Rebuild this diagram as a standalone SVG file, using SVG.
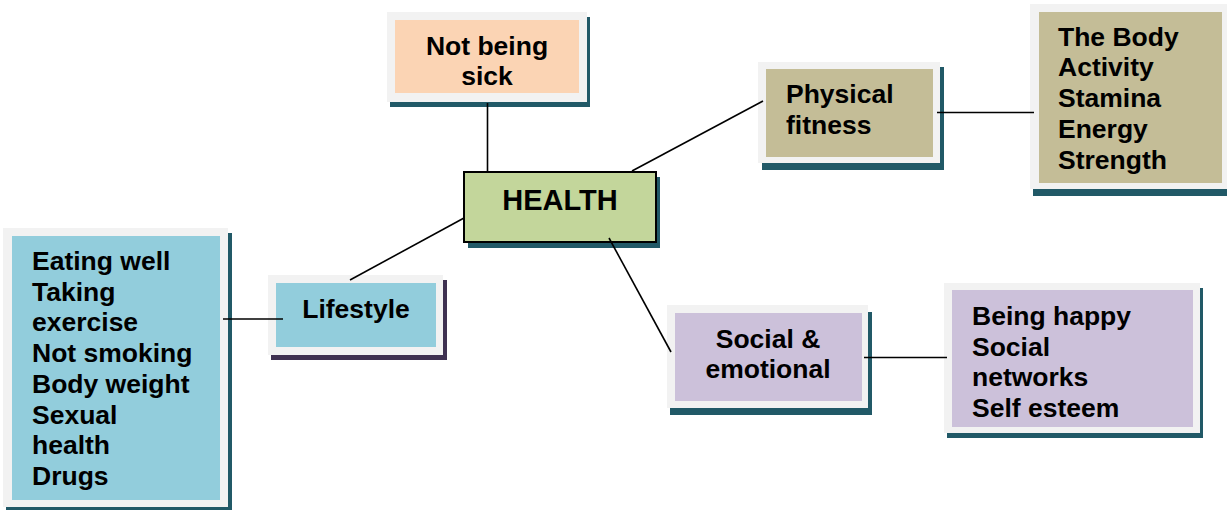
<svg xmlns="http://www.w3.org/2000/svg" width="1227" height="510" viewBox="0 0 1227 510">
<style>
.frame{fill:#f2f2f2}
.sh{fill:#215967}
.shp{fill:#3f3151}
text{font-family:"Liberation Sans",Arial,sans-serif;font-weight:bold;font-size:26.5px;fill:#000}
.c{text-anchor:middle}
.ln{stroke:#000;stroke-width:1.6;fill:none}
</style>
<rect width="1227" height="510" fill="#fff"/>
<g id="not-being-sick">
<rect class="sh" x="390" y="17" width="200" height="90"/>
<rect class="frame" x="387" y="12" width="200" height="90"/>
<rect x="395" y="20" width="184" height="73" fill="#fbd4b4"/>
<text class="c" x="487" y="55">Not being</text>
<text class="c" x="487" y="85">sick</text>
</g>
<g id="health">
<rect class="sh" x="468" y="177" width="192" height="71"/>
<rect x="464" y="172" width="192" height="70" fill="#c3d69b" stroke="#000" stroke-width="2"/>
<text class="c" x="560" y="210" style="font-size:29px">HEALTH</text>
</g>
<g id="physical-fitness">
<rect class="sh" x="762" y="67" width="182" height="103"/>
<rect class="frame" x="758" y="62" width="182" height="101"/>
<rect x="766" y="69" width="167" height="88" fill="#c4bd97"/>
<text x="786" y="103">Physical</text>
<text x="786" y="134">fitness</text>
</g>
<g id="the-body">
<rect class="sh" x="1033" y="9" width="200" height="187"/>
<rect class="frame" x="1030" y="4" width="200" height="185"/>
<rect x="1039" y="12" width="183" height="171" fill="#c4bd97"/>
<text x="1058" y="45.5">The Body</text>
<text x="1058" y="76.2">Activity</text>
<text x="1058" y="107">Stamina</text>
<text x="1058" y="137.7">Energy</text>
<text x="1058" y="168.5">Strength</text>
</g>
<g id="lifestyle">
<rect class="shp" x="271" y="280" width="176" height="80"/>
<rect class="frame" x="268" y="275" width="175" height="80"/>
<rect x="276" y="283" width="160" height="64" fill="#92cddc"/>
<text class="c" x="356" y="318">Lifestyle</text>
</g>
<g id="lifestyle-items">
<rect class="sh" x="6" y="233" width="226" height="278"/>
<rect class="frame" x="3" y="228" width="225" height="279"/>
<rect x="12" y="236" width="208" height="264" fill="#92cddc"/>
<text x="32" y="270">Eating well</text>
<text x="32" y="300.7">Taking</text>
<text x="32" y="331.4">exercise</text>
<text x="32" y="362.1">Not smoking</text>
<text x="32" y="392.8">Body weight</text>
<text x="32" y="423.5">Sexual</text>
<text x="32" y="454.2">health</text>
<text x="32" y="485">Drugs</text>
</g>
<g id="social-emotional">
<rect class="sh" x="670" y="312" width="202" height="103"/>
<rect class="frame" x="667" y="305" width="201" height="103"/>
<rect x="675" y="313" width="187" height="88" fill="#ccc1da"/>
<text class="c" x="768" y="348">Social &amp;</text>
<text class="c" x="768" y="378">emotional</text>
</g>
<g id="social-items">
<rect class="sh" x="947" y="288" width="256" height="150"/>
<rect class="frame" x="944" y="283" width="256" height="150"/>
<rect x="952" y="290" width="241" height="137" fill="#ccc1da"/>
<text x="972" y="325">Being happy</text>
<text x="972" y="355.7">Social</text>
<text x="972" y="386.4">networks</text>
<text x="972" y="417">Self esteem</text>
</g>
<g id="connectors">
<line class="ln" x1="487.5" y1="103" x2="487.5" y2="171"/>
<line class="ln" x1="632" y1="171" x2="763" y2="101"/>
<line class="ln" x1="937" y1="112.5" x2="1034" y2="112.5"/>
<line class="ln" x1="464" y1="218" x2="350" y2="280"/>
<line class="ln" x1="223" y1="319" x2="283" y2="319"/>
<line class="ln" x1="609" y1="238" x2="671" y2="352"/>
<line class="ln" x1="864" y1="357.5" x2="947" y2="357.5"/>
</g>
</svg>
